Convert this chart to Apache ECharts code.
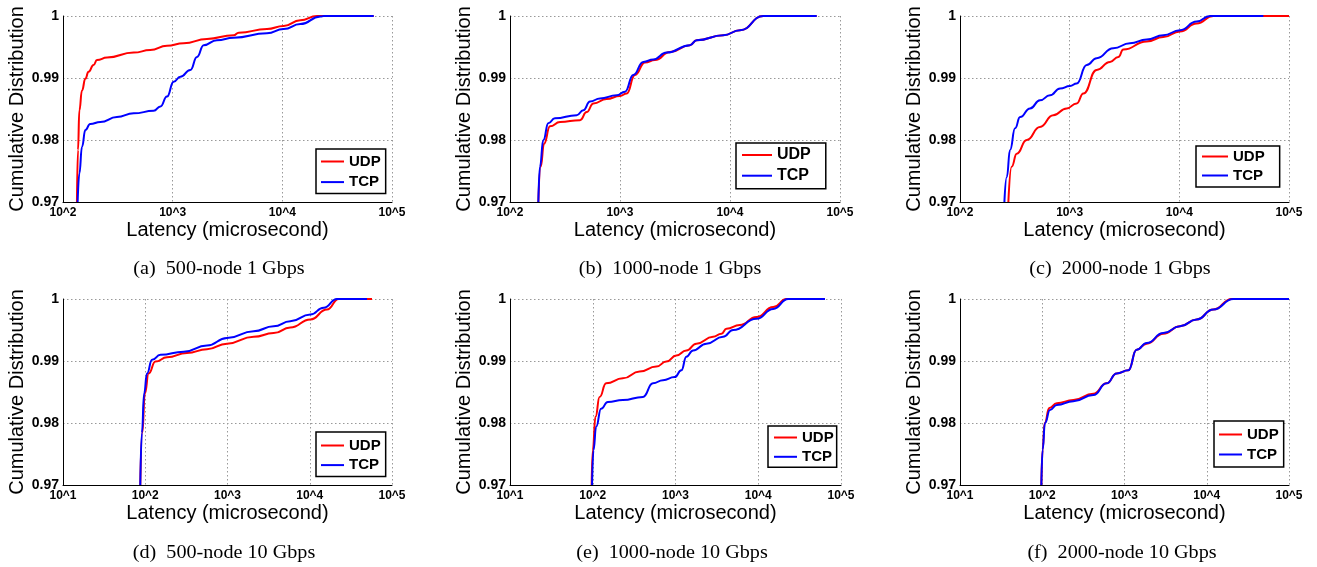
<!DOCTYPE html>
<html>
<head>
<meta charset="utf-8">
<script src="https://cdn.jsdelivr.net/npm/echarts@6/dist/echarts.min.js"></script>
<style>
html, body { margin: 0; padding: 0; background: #fff; }
#main { width: 1317px; height: 567px; }
</style>
</head>
<body>
<div id="main"></div>
<script>
// 数据：[延迟(微秒), 累计分布]
var udp500x1 = [[134,0.9700],[137,0.9784],[141,0.9848],[149,0.9880],[160,0.9899],[171,0.9910],[190,0.9921],[204,0.9929],[252,0.9933],[441,0.9941],[625,0.9945],[887,0.9952],[1259,0.9956],[2055,0.9963],[3597,0.9969],[4000,0.9973],[7245,0.9979],[10280,0.9984],[14590,0.9993],[20700,1],[68100,1]];
var tcp500x1 = [[136,0.9700],[141,0.9746],[149,0.9789],[160,0.9816],[177,0.9826],[219,0.9829],[310,0.9837],[441,0.9843],[671,0.9847],[773,0.9854],[887,0.9870],[1021,0.9894],[1175,0.9902],[1449,0.9913],[1667,0.9934],[1918,0.9953],[2536,0.9961],[3597,0.9965],[7245,0.9972],[10280,0.9979],[14590,0.9987],[22230,0.9999],[23800,1],[68100,1]];
var udp1000x1 = [[181,0.97],[190,0.9757],[204,0.9794],[231,0.9822],[285,0.9829],[433,0.9832],[498,0.9845],[573,0.9859],[756,0.9866],[1000,0.9871],[1150,0.9875],[1368,0.9905],[1688,0.9925],[2080,0.9929],[2849,0.9942],[4325,0.9953],[4976,0.9961],[8690,0.9969],[12330,0.9977],[20090,1],[61380,1]];
var tcp1000x1 = [[181,0.97],[187,0.9757],[201,0.9800],[223,0.9827],[256,0.9835],[404,0.9840],[464,0.9848],[534,0.9862],[658,0.9867],[933,0.9872],[1110,0.9878],[1321,0.9905],[1629,0.9926],[2009,0.9930],[2655,0.9941],[4325,0.9953],[4976,0.9961],[8690,0.9969],[12330,0.9977],[20090,1],[61380,1]];
var udp2000x1 = [[276,0.97],[296,0.9757],[329,0.9778],[406,0.9800],[536,0.9821],[709,0.9840],[939,0.9851],[1158,0.9859],[1333,0.9875],[1763,0.9913],[2333,0.9926],[2780,0.9934],[3085,0.9946],[5035,0.9959],[7145,0.9966],[10140,0.9975],[14390,0.9988],[20420,1],[100000,1]];
var tcp2000x1 = [[254,0.97],[267,0.9740],[286,0.9784],[318,0.9819],[353,0.9837],[435,0.9851],[536,0.9864],[662,0.9872],[817,0.9883],[1007,0.9887],[1158,0.9891],[1430,0.9921],[1763,0.9932],[2501,0.9948],[3548,0.9956],[5035,0.9962],[7145,0.9969],[10140,0.9977],[14390,0.9991],[19050,1],[58350,1]];
var udp500x10 = [[87,0.97],[92,0.9784],[99,0.9848],[110,0.9880],[133,0.9899],[184,0.9906],[322,0.9913],[563,0.9919],[986,0.9928],[2080,0.9939],[3640,0.9945],[5800,0.9954],[10170,0.9967],[16200,0.9983],[22490,1],[57100,1]];
var tcp500x10 = [[87,0.97],[91,0.9784],[97,0.9848],[105,0.9880],[121,0.9902],[153,0.9910],[293,0.9915],[563,0.9925],[986,0.9937],[2080,0.9948],[3640,0.9956],[5800,0.9964],[10170,0.9975],[14760,0.9986],[21430,1],[49660,1]];
var udp1000x10 = [[97,0.97],[100,0.9756],[108,0.9810],[121,0.9842],[145,0.9864],[231,0.9872],[368,0.9883],[586,0.9891],[775,0.9899],[1023,0.9909],[1352,0.9917],[1787,0.9928],[2844,0.9939],[3589,0.9944],[4130,0.9952],[5990,0.9958],[9530,0.9971],[15170,0.9987],[21980,1],[64000,1]];
var tcp1000x10 = [[98,0.97],[102,0.9756],[110,0.9794],[126,0.9823],[152,0.9834],[231,0.9837],[404,0.9842],[534,0.9864],[706,0.9869],[977,0.9874],[1178,0.9885],[1352,0.9907],[1630,0.9917],[2362,0.9928],[3758,0.9939],[4966,0.9950],[9530,0.9968],[15170,0.9984],[23010,1],[64000,1]];
var udp2000x10 = [[97.5,0.97],[101,0.9757],[107,0.9800],[122,0.9824],[150,0.9832],[239,0.9837],[418,0.9847],[607,0.9864],[803,0.9880],[1114,0.9885],[1406,0.9918],[1862,0.9928],[2965,0.9944],[4731,0.9956],[7534,0.9967],[12020,0.9983],[20140,1],[100000,1]];
var tcp2000x10 = [[97.5,0.97],[101,0.9757],[108,0.9800],[124,0.9821],[150,0.9829],[239,0.9835],[418,0.9845],[607,0.9864],[803,0.9880],[1114,0.9885],[1406,0.9918],[1862,0.9929],[2965,0.9945],[4731,0.9956],[7534,0.9967],[12020,0.9983],[21040,1],[100000,1]];

var captions = ['(a)  500-node 1 Gbps', '(b)  1000-node 1 Gbps', '(c)  2000-node 1 Gbps',
	'(d)  500-node 10 Gbps', '(e)  1000-node 10 Gbps', '(f)  2000-node 10 Gbps'];
var xMin = [100, 100, 100, 10, 10, 10];
var xMax = [100000, 100000, 100000, 100000, 100000, 100000];
var yTicks = [0.97, 0.98, 0.99, 1];
var names = ['UDP', 'TCP'];
var colors = ['#ff0000', '#0000ff'];

(function() {
	var chart = echarts.init(document.getElementById('main'));
	var udpList = [udp500x1, udp1000x1, udp2000x1, udp500x10, udp1000x10, udp2000x10];
	var tcpList = [tcp500x1, tcp1000x1, tcp2000x1, tcp500x10, tcp1000x10, tcp2000x10];

	//子图位置
	var boxes = [
		{ left: 63, top: 16, width: 329, height: 186 },
		{ left: 510, top: 16, width: 330, height: 186 },
		{ left: 960, top: 16, width: 329, height: 186 },
		{ left: 63, top: 299, width: 329, height: 186 },
		{ left: 510, top: 299, width: 331, height: 186 },
		{ left: 960, top: 299, width: 329, height: 186 }
	];
	//图例位置
	var legends = [
		{ left: 316, top: 149, iw: 23, fs: 15, gap: 5.6, pad: [5, 5, 4, 5] },
		{ left: 736, top: 143, iw: 30, fs: 16, gap: 4.7, pad: [4, 15, 5, 6] },
		{ left: 1196, top: 146, iw: 26, fs: 15, gap: 4, pad: [3, 15, 4, 6] },
		{ left: 316, top: 432, iw: 23, fs: 15, gap: 4.6, pad: [6, 5, 4, 5] },
		{ left: 768, top: 426, iw: 23, fs: 15, gap: 4.3, pad: [4, 3, 3, 6] },
		{ left: 1214, top: 421, iw: 23, fs: 15, gap: 5, pad: [6, 5, 5, 5] }
	];
	//标题位置
	var capPos = [[219, 269], [670, 269], [1120, 269], [224, 553], [672, 553], [1122, 553]];

	var grid = [], xAxis = [], yAxis = [], series = [], legend = [], graphic = [];
	for (var i = 0; i < 6; i++) {
		grid.push({ left: boxes[i].left, top: boxes[i].top, width: boxes[i].width, height: boxes[i].height, outerBoundsMode: 'none' });
		xAxis.push({
			type: 'log', gridIndex: i, logBase: 10, min: xMin[i], max: xMax[i],
			splitNumber: Math.round(Math.log10(xMax[i] / xMin[i])),
			name: 'Latency (microsecond)', nameLocation: 'middle', nameGap: 18,
			nameTextStyle: { fontFamily: 'Liberation Sans', fontSize: 20, color: '#000' },
			axisLine: { show: true, lineStyle: { color: '#000', width: 1 } },
			axisTick: { show: false },
			axisLabel: {
				fontFamily: 'Liberation Sans', fontSize: 12, fontWeight: 'bold', color: '#000', margin: 5,
				formatter: function(v) { return '10^' + Math.round(Math.log10(v)); }
			},
			splitLine: { show: true, lineStyle: { color: '#999', type: [1.5, 2.5], width: 1 } }
		});
		yAxis.push({
			type: 'value', gridIndex: i, min: yTicks[0], max: yTicks[yTicks.length - 1], interval: 0.01,
			name: 'Cumulative Distribution', nameLocation: 'middle', nameGap: 36,
			nameTextStyle: { fontFamily: 'Liberation Sans', fontSize: 20, color: '#000' },
			axisLine: { show: true, lineStyle: { color: '#000', width: 1 } },
			axisTick: { show: false },
			axisLabel: {
				fontFamily: 'Liberation Sans', fontSize: 14, fontWeight: 'bold', color: '#000', margin: 4,
				formatter: function(v) { return String(parseFloat(v.toFixed(2))); }
			},
			splitLine: { show: true, lineStyle: { color: '#999', type: [1.5, 2.5], width: 1 } }
		});
		var pair = [udpList[i], tcpList[i]];
		for (var k = 0; k < 2; k++) {
			series.push({
				name: names[k], type: 'line', xAxisIndex: i, yAxisIndex: i,
				data: pair[k], symbol: 'none', smooth: 0.5, smoothMonotone: 'x',
				lineStyle: { color: colors[k], width: 2 }, itemStyle: { color: colors[k] }
			});
		}
		var lg = legends[i];
		legend.push({
			data: names, orient: 'vertical', left: lg.left, top: lg.top,
			icon: 'rect', itemWidth: lg.iw, itemHeight: 2, itemGap: lg.gap,
			padding: lg.pad, borderColor: '#000', borderWidth: 1.5, backgroundColor: '#fff',
			selectedMode: false,
			textStyle: { fontFamily: 'Liberation Sans', fontSize: lg.fs, lineHeight: lg.fs, fontWeight: 'bold', color: '#000' }
		});
		graphic.push({
			type: 'text', x: capPos[i][0], y: capPos[i][1], scaleX: 1.12,
			style: { text: captions[i], font: '18px "Liberation Serif"', fill: '#000', textAlign: 'center', textVerticalAlign: 'middle' }
		});
	}

	chart.setOption({
		backgroundColor: '#fff',
		animation: false,
		grid: grid,
		xAxis: xAxis,
		yAxis: yAxis,
		legend: legend,
		series: series,
		graphic: graphic
	});
})();
</script>
</body>
</html>
